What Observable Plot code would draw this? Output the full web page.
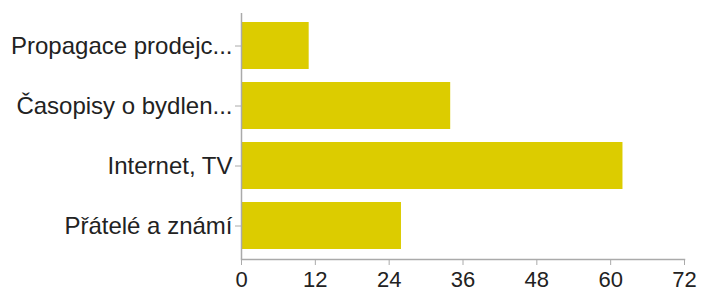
<!DOCTYPE html>
<html>
<head>
<meta charset="utf-8">
<script src="https://cdn.jsdelivr.net/npm/d3@7"></script>
<script src="https://cdn.jsdelivr.net/npm/@observablehq/plot@0.6"></script>
<style>
  html, body { margin: 0; padding: 0; background: #fff; }
  #chart svg { display: block; }
</style>
</head>
<body>
<div id="chart"></div>
<script>
const categories = ["Propagace prodejc...", "Časopisy o bydlen...", "Internet, TV", "Přátelé a známí"];
const values = [11, 34, 62, 26];
const xTicks = [0, 12, 24, 36, 48, 60, 72];

const data = categories.map((c, i) => ({category: c, value: values[i]}));

const chart = Plot.plot({
  width: 702,
  height: 291,
  marginTop: 13,
  marginBottom: 32,
  marginLeft: 241,
  marginRight: 18,
  style: {fontFamily: "Liberation Sans, Arial, Helvetica, sans-serif", fontSize: "24px", color: "#222", background: "#fff"},
  x: {domain: [0, 72], ticks: xTicks, label: null},
  y: {domain: categories, paddingInner: 0.21, paddingOuter: 0.155, label: null},
  marks: [
    Plot.barX(data, {x: "value", y: "category", fill: "#dccc00"}),
    Plot.ruleX([0], {stroke: "#aaa", strokeWidth: 1.5}),
    Plot.frame({anchor: "bottom", stroke: "#aaa", strokeWidth: 1.5}),
    Plot.axisX({ticks: xTicks, tickSize: 6, tickPadding: 6, fontSize: 22, stroke: "#aaa", fill: "#222", label: null}),
    Plot.axisY({tickSize: 6, tickPadding: 3, fontSize: 24, stroke: "#aaa", fill: "#222", label: null})
  ]
});
document.getElementById("chart").appendChild(chart);
</script>
</body>
</html>
